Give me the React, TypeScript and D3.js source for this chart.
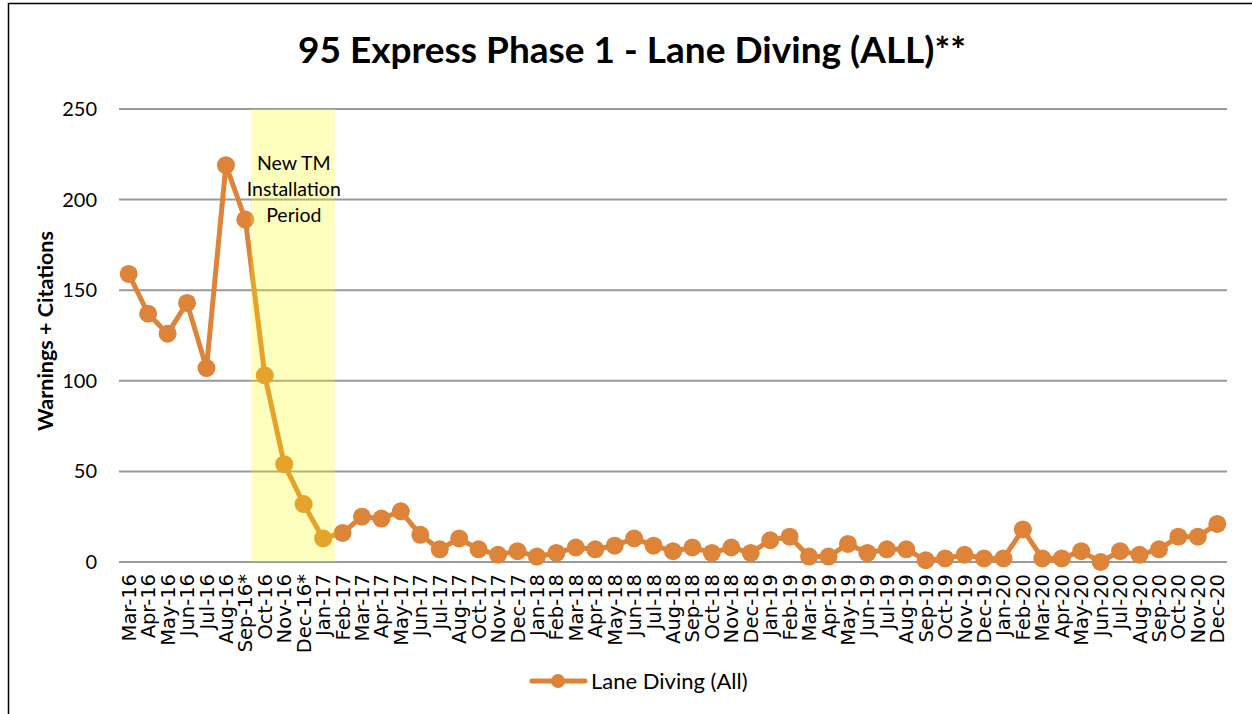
import React, { useRef, useEffect } from 'react';
import * as d3 from 'd3';

const months = [
  'Mar-16', 'Apr-16', 'May-16', 'Jun-16', 'Jul-16', 'Aug-16', 'Sep-16*', 'Oct-16', 'Nov-16', 'Dec-16*',
  'Jan-17', 'Feb-17', 'Mar-17', 'Apr-17', 'May-17', 'Jun-17', 'Jul-17', 'Aug-17', 'Oct-17', 'Nov-17', 'Dec-17',
  'Jan-18', 'Feb-18', 'Mar-18', 'Apr-18', 'May-18', 'Jun-18', 'Jul-18', 'Aug-18', 'Sep-18', 'Oct-18', 'Nov-18', 'Dec-18',
  'Jan-19', 'Feb-19', 'Mar-19', 'Apr-19', 'May-19', 'Jun-19', 'Jul-19', 'Aug-19', 'Sep-19', 'Oct-19', 'Nov-19', 'Dec-19',
  'Jan-20', 'Feb-20', 'Mar-20', 'Apr-20', 'May-20', 'Jun-20', 'Jul-20', 'Aug-20', 'Sep-20', 'Oct-20', 'Nov-20', 'Dec-20',
];

const laneDiving = [
  159, 137, 126, 143, 107, 219, 189, 103, 54, 32,
  13, 16, 25, 24, 28, 15, 7, 13, 7, 4, 6,
  3, 5, 8, 7, 9, 13, 9, 6, 8, 5, 8, 5,
  12, 14, 3, 3, 10, 5, 7, 7, 1, 2, 4, 2,
  2, 18, 2, 2, 6, 0, 6, 4, 7, 14, 14, 21,
];

const yTicks = [0, 50, 100, 150, 200, 250];
const bandStart = 'Sep-16*';
const bandEnd = 'Jan-17';
const bandNote = ['New TM', 'Installation', 'Period'];

const W = 1252;
const H = 714;
const FONT = 'Lato, "Open Sans", sans-serif';
const TICK_FONT = '"DejaVu Sans", sans-serif';
const ORANGE = '#DD8439';

const App = () => {
  const ref = useRef<SVGSVGElement>(null);

  useEffect(() => {
    const svg = d3.select(ref.current);
    svg.selectAll('*').remove();

    const x = d3.scaleBand<string>().domain(months).range([119, 1227]);
    const cx = (m: string) => (x(m) as number) + x.bandwidth() / 2;
    const y = d3.scaleLinear().domain([0, 250]).range([562, 109]);

    // frame
    svg.append('rect')
      .attr('x', 8.5).attr('y', 3.5).attr('width', 1260).attr('height', 730)
      .attr('fill', 'white').attr('stroke', '#000').attr('stroke-width', 1.5);

    // title
    svg.append('text')
      .attr('x', 632).attr('y', 63)
      .attr('text-anchor', 'middle')
      .style('font-family', FONT).style('font-size', '37px').style('font-weight', 'bold')
      .text('95 Express Phase 1 - Lane Diving (ALL)**');

    // gridlines
    svg.append('g').selectAll('line').data(yTicks).enter().append('line')
      .attr('x1', 119).attr('x2', 1227)
      .attr('y1', d => y(d)).attr('y2', d => y(d))
      .attr('stroke', '#9a9a9a').attr('stroke-width', 2);

    // y tick labels
    svg.append('g').selectAll('text').data(yTicks).enter().append('text')
      .attr('x', 97).attr('y', d => y(d))
      .attr('dy', '0.35em').attr('text-anchor', 'end')
      .style('font-family', FONT).style('font-size', '20px')
      .text(d => d);

    // y axis title
    svg.append('text')
      .attr('transform', 'translate(53,331) rotate(-90)')
      .attr('text-anchor', 'middle')
      .style('font-family', FONT).style('font-size', '21.5px').style('font-weight', 'bold')
      .text('Warnings + Citations');

    // x tick labels
    svg.append('g').selectAll('text').data(months).enter().append('text')
      .attr('transform', d => `translate(${cx(d)},574) rotate(-90)`)
      .attr('dy', '0.36em').attr('text-anchor', 'end')
      .style('font-family', TICK_FONT).style('font-size', '19.5px')
      .text(d => d);

    // series
    const line = d3.line<number>()
      .x((_, i) => cx(months[i]))
      .y(d => y(d));

    svg.append('path')
      .datum(laneDiving)
      .attr('d', line)
      .attr('fill', 'none').attr('stroke', ORANGE).attr('stroke-width', 5)
      .attr('stroke-linejoin', 'round');

    svg.append('g').selectAll('circle').data(laneDiving).enter().append('circle')
      .attr('cx', (_, i) => cx(months[i]))
      .attr('cy', d => y(d))
      .attr('r', 9)
      .attr('fill', ORANGE);

    // highlight band drawn over the line
    const step = x.step();
    const bx0 = cx(bandStart) + step * 0.28;
    const bx1 = cx(bandEnd) + step * 0.6;
    svg.append('rect')
      .attr('x', bx0).attr('y', y(250))
      .attr('width', bx1 - bx0).attr('height', y(0) - y(250))
      .attr('fill', '#FFFF00').attr('fill-opacity', 0.26);

    svg.append('text')
      .attr('x', (bx0 + bx1) / 2 + 1).attr('y', 170)
      .attr('text-anchor', 'middle')
      .style('font-family', FONT).style('font-size', '19.5px')
      .selectAll('tspan').data(bandNote).enter().append('tspan')
      .attr('x', (bx0 + bx1) / 2 + 1)
      .attr('dy', (_, i) => (i === 0 ? 0 : 26))
      .text(d => d);

    // legend
    const lg = svg.append('g').attr('transform', 'translate(530,681)');
    lg.append('line').attr('x1', 2).attr('x2', 55).attr('y1', 0).attr('y2', 0)
      .attr('stroke', ORANGE).attr('stroke-width', 5).attr('stroke-linecap', 'round');
    lg.append('circle').attr('cx', 28).attr('cy', 0).attr('r', 7).attr('fill', ORANGE);
    lg.append('text').attr('x', 61).attr('y', 0).attr('dy', '0.35em')
      .style('font-family', FONT).style('font-size', '22px')
      .text('Lane Diving (All)');
  }, []);

  return (
    <svg ref={ref} width={W} height={H}
      style={{ position: 'absolute', left: 0, top: 0, background: 'white' }} />
  );
};

export default App;
